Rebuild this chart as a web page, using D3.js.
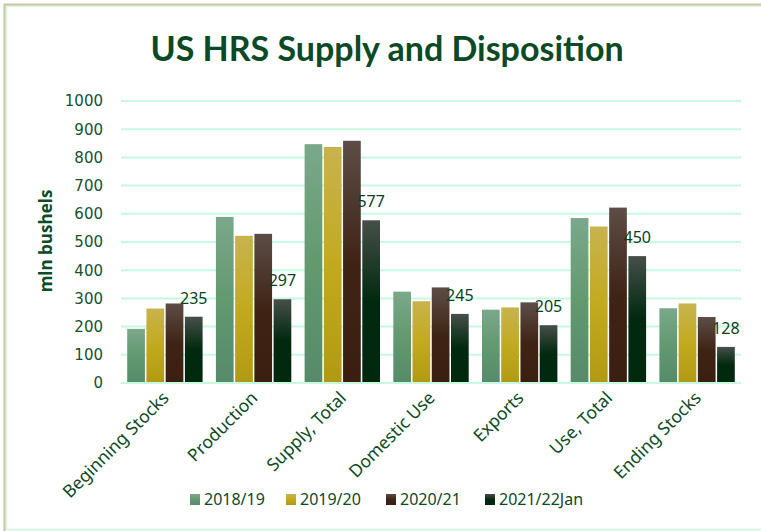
<!DOCTYPE html>
<html>
<head>
<meta charset="utf-8">
<script src="https://cdn.jsdelivr.net/npm/d3@7/dist/d3.min.js"></script>
<style>
  body { margin: 0; background: #fff; }
</style>
</head>
<body>
<div id="chart"></div>
<script>
// data
const categories = ["Beginning Stocks", "Production", "Supply, Total", "Domestic Use", "Exports", "Use, Total", "Ending Stocks"];
const seriesNames = ["2018/19", "2019/20", "2020/21", "2021/22Jan"];
const v2018 = [192, 589, 847, 324, 260, 585, 265];
const v2019 = [264, 522, 837, 290, 268, 555, 282];
const v2020 = [282, 529, 859, 339, 286, 622, 234];
const v2021 = [235, 297, 577, 245, 205, 450, 128];
const yTicks = [0, 100, 200, 300, 400, 500, 600, 700, 800, 900, 1000];

const allValues = [v2018, v2019, v2020, v2021];
// colours: [top, mid, bottom]
const colors = [
  ["#7ba88b", "#62996f", "#568a6b"],
  ["#c8b34e", "#c2aa1e", "#b19a12"],
  ["#5d4d47", "#3f2415", "#3a1e10"],
  ["#464f49", "#00290f", "#00280f"]
];

const width = 761, height = 531;
const margin = {left: 121, right: 20, top: 101, bottom: 148};

const svg = d3.select("#chart").append("svg")
  .attr("width", width)
  .attr("height", height);

// frame: tan on the left and top, mint inside
svg.append("rect").attr("x", 6).attr("y", 6).attr("width", 800).attr("height", 523.5)
  .attr("fill", "none").attr("stroke", "#c9f7de").attr("stroke-width", 1.5);
svg.append("path").attr("d", "M4.5,531 V4.5 H761")
  .attr("fill", "none").attr("stroke", "#cfc3a3").attr("stroke-width", 2);

const defs = svg.append("defs");
colors.forEach((c, i) => {
  let g = defs.append("linearGradient").attr("id", "grad" + i)
    .attr("x1", 0).attr("y1", 0).attr("x2", 0).attr("y2", 1);
  g.append("stop").attr("offset", "0%").attr("stop-color", c[0]);
  g.append("stop").attr("offset", "50%").attr("stop-color", c[1]);
  g.append("stop").attr("offset", "100%").attr("stop-color", c[2]);
});

const x0 = d3.scaleBand().domain(categories)
  .range([margin.left, width - margin.right]).paddingInner(0.15).paddingOuter(0.07);
const x1 = d3.scaleBand().domain(seriesNames)
  .range([0, x0.bandwidth()]).paddingInner(0.08);
const y = d3.scaleLinear().domain([0, 1000])
  .range([height - margin.bottom, margin.top]);

// gridlines
svg.append("g").selectAll("line").data(yTicks).join("line")
  .attr("x1", margin.left).attr("x2", width - margin.right)
  .attr("y1", d => y(d)).attr("y2", d => y(d))
  .attr("stroke", "#c6fbe0").attr("stroke-width", 2);

// y tick labels
const yAxis = svg.append("g")
  .attr("transform", `translate(${margin.left - 16},0)`)
  .call(d3.axisLeft(y).tickValues(yTicks).tickFormat(d3.format("d")).tickSize(0).tickPadding(2));
yAxis.select(".domain").remove();
yAxis.selectAll("text")
  .attr("fill", "#13532f")
  .style("font-family", "DejaVu Sans")
  .style("font-size", "15px");

// y axis title
svg.append("text")
  .attr("transform", `translate(52,241) rotate(-90)`)
  .attr("text-anchor", "middle")
  .attr("fill", "#0d4a26")
  .style("font-family", "Open Sans")
  .style("font-weight", "bold")
  .style("font-size", "17px")
  .text("mln bushels");

// title
svg.append("text")
  .attr("x", 387).attr("y", 61)
  .attr("text-anchor", "middle")
  .attr("fill", "#0b4a25")
  .style("font-family", "Lato")
  .style("font-weight", "bold")
  .style("font-size", "34px")
  .text("US HRS Supply and Disposition");

// bars
const groups = svg.append("g").selectAll("g").data(categories).join("g")
  .attr("transform", d => `translate(${x0(d)},0)`);

groups.selectAll("rect")
  .data((d, ci) => seriesNames.map((s, si) => ({s: s, si: si, v: allValues[si][ci]})))
  .join("rect")
  .attr("x", d => x1(d.s))
  .attr("y", d => y(d.v))
  .attr("width", x1.bandwidth())
  .attr("height", d => y(0) - y(d.v))
  .attr("fill", d => `url(#grad${d.si})`);

// data labels on last series
groups.append("text")
  .attr("x", x1(seriesNames[3]) + x1.bandwidth() / 2)
  .attr("y", (d, ci) => y(v2021[ci]) - 13)
  .attr("text-anchor", "middle")
  .attr("fill", "#0b3f21")
  .style("font-family", "Noto Sans")
  .style("font-size", "16px")
  .text((d, ci) => v2021[ci]);

// bottom axis line
svg.append("line")
  .attr("x1", margin.left).attr("x2", width - margin.right)
  .attr("y1", y(0)).attr("y2", y(0))
  .attr("stroke", "#c6fbe0").attr("stroke-width", 2);

// category labels
svg.append("g").selectAll("text").data(categories).join("text")
  .attr("transform", d => `translate(${x0(d) + x0.bandwidth() / 2 + 5},${y(0) + 16}) rotate(-45)`)
  .attr("text-anchor", "end")
  .attr("fill", "#0d4a26")
  .style("font-family", "Noto Sans")
  .style("font-size", "17.5px")
  .text(d => d);

// legend
const legendX = [190, 286, 386, 485];
const legend = svg.append("g").selectAll("g").data(seriesNames).join("g")
  .attr("transform", (d, i) => `translate(${legendX[i]},494)`);
legend.append("rect").attr("width", 10).attr("height", 11)
  .attr("fill", (d, i) => `url(#grad${i})`);
legend.append("text")
  .attr("x", 14).attr("y", 11)
  .attr("fill", "#0d4a26")
  .style("font-family", "Noto Sans")
  .style("font-size", "16px")
  .text(d => d);
</script>
</body>
</html>
